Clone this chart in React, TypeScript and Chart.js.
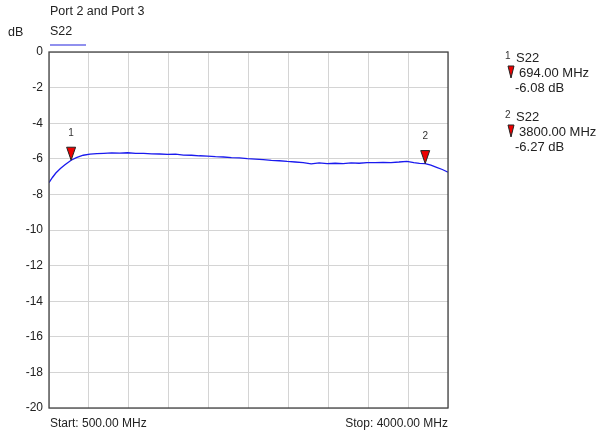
import React, { useEffect, useRef } from "react";
import { Chart, registerables } from "chart.js";

Chart.register(...registerables);

const freqs = [500, 530, 560, 600, 640, 694, 740, 800, 860, 920, 980, 1050, 1120, 1190, 1260, 1330, 1400, 1470, 1540, 1610, 1680, 1750, 1820, 1890, 1960, 2030, 2100, 2170, 2240, 2310, 2380, 2450, 2520, 2590, 2660, 2730, 2800, 2870, 2940, 3010, 3080, 3150, 3220, 3290, 3360, 3430, 3500, 3570, 3640, 3700, 3750, 3800, 3850, 3900, 3950, 4000];
const s22 = [-7.34, -7.05, -6.8, -6.55, -6.34, -6.08, -5.93, -5.8, -5.74, -5.71, -5.69, -5.67, -5.68, -5.66, -5.69, -5.7, -5.72, -5.73, -5.75, -5.74, -5.79, -5.8, -5.83, -5.85, -5.88, -5.9, -5.93, -5.95, -5.99, -6.02, -6.05, -6.09, -6.11, -6.15, -6.18, -6.21, -6.29, -6.23, -6.27, -6.25, -6.27, -6.23, -6.25, -6.21, -6.22, -6.2, -6.21, -6.18, -6.14, -6.22, -6.26, -6.27, -6.36, -6.48, -6.6, -6.75];

const markerIds = ["1", "2"];
const markerFreqs = [694, 3800];
const markerVals = [-6.08, -6.27];
const markerFreqLabels = ["694.00 MHz", "3800.00 MHz"];
const markerValLabels = ["-6.08 dB", "-6.27 dB"];

const yMin = -20;
const yMax = 0;
const yStep = 2;
const xMin = 500;
const xMax = 4000;
const xStep = 350;

const FONT = "'Liberation Sans', Arial, sans-serif";

function tri(ctx: CanvasRenderingContext2D, x: number, tipY: number, w: number, h: number) {
  ctx.beginPath();
  ctx.moveTo(x - w / 2, tipY - h);
  ctx.lineTo(x + w / 2, tipY - h);
  ctx.lineTo(x, tipY);
  ctx.closePath();
  ctx.fillStyle = "#ee0000";
  ctx.fill();
  ctx.strokeStyle = "#222";
  ctx.lineWidth = 1;
  ctx.stroke();
}

const overlay = {
  id: "overlay",
  afterDraw(chart: any) {
    const ctx: CanvasRenderingContext2D = chart.ctx;
    const a = chart.chartArea;
    const xs = chart.scales.x;
    const ys = chart.scales.y;
    ctx.save();
    // frame
    ctx.strokeStyle = "#444";
    ctx.lineWidth = 1.3;
    ctx.strokeRect(a.left, a.top, a.right - a.left, a.bottom - a.top);

    ctx.fillStyle = "#222";
    ctx.textBaseline = "middle";
    ctx.font = `12.5px ${FONT}`;
    ctx.textAlign = "left";
    ctx.fillText("Port 2 and Port 3", 50, 12);
    ctx.fillText("S22", 50, 32);
    ctx.fillText("dB", 8, 33);
    ctx.font = `12px ${FONT}`;
    ctx.fillText("Start: 500.00 MHz", 50, 424);
    ctx.textAlign = "right";
    ctx.fillText("Stop: 4000.00 MHz", a.right, 424);

    ctx.strokeStyle = "#2222dd";
    ctx.lineWidth = 1.2;
    ctx.beginPath();
    ctx.moveTo(50, 45);
    ctx.lineTo(86, 45);
    ctx.stroke();

    // markers on trace
    for (let i = 0; i < markerFreqs.length; i++) {
      const px = xs.getPixelForValue(markerFreqs[i]);
      const py = ys.getPixelForValue(markerVals[i]);
      tri(ctx, px, py, 9, 13);
      ctx.fillStyle = "#333";
      ctx.font = `10px ${FONT}`;
      ctx.textAlign = "center";
      ctx.fillText(markerIds[i], px, py - 27);
    }

    // legend
    for (let i = 0; i < markerIds.length; i++) {
      const base = 58 + i * 59;
      ctx.fillStyle = "#333";
      ctx.textAlign = "left";
      ctx.font = `10px ${FONT}`;
      ctx.fillText(markerIds[i], 505, base - 2);
      ctx.font = `13px ${FONT}`;
      ctx.fillStyle = "#222";
      ctx.fillText("S22", 516, base);
      tri(ctx, 511, base + 20, 6, 12);
      ctx.fillStyle = "#222";
      ctx.fillText(markerFreqLabels[i], 519, base + 15);
      ctx.fillText(markerValLabels[i], 515, base + 30);
    }
    ctx.restore();
  },
};

export default function App() {
  const ref = useRef<HTMLCanvasElement>(null);
  useEffect(() => {
    if (!ref.current) return;
    const chart = new Chart(ref.current, {
      type: "line",
      data: {
        datasets: [
          {
            label: "S22",
            data: freqs.map((f, i) => ({ x: f, y: s22[i] })),
            borderColor: "#1a1aee",
            borderWidth: 1.3,
            pointRadius: 0,
            tension: 0,
            fill: false,
          },
        ],
      },
      options: {
        responsive: false,
        animation: false,
        events: [],
        layout: { padding: { left: 0, top: 52, right: 153, bottom: 0 } },
        plugins: { legend: { display: false }, tooltip: { enabled: false } },
        scales: {
          x: {
            type: "linear",
            min: xMin,
            max: xMax,
            afterFit: (s: any) => {
              s.height = 29;
            },
            afterBuildTicks: (s: any) => {
              const t = [];
              for (let v = xMin; v <= xMax + 1; v += xStep) t.push({ value: v });
              s.ticks = t;
            },
            ticks: { display: false },
            grid: { color: "#d4d4d4", lineWidth: 1, drawTicks: false },
            border: { display: false },
          },
          y: {
            min: yMin,
            max: yMax,
            afterFit: (s: any) => {
              s.width = 49;
            },
            ticks: {
              stepSize: yStep,
              padding: 6,
              color: "#222",
              font: { family: FONT, size: 12 },
            },
            grid: { color: "#d4d4d4", lineWidth: 1, drawTicks: false },
            border: { display: false },
          },
        },
      },
      plugins: [overlay],
    });
    return () => chart.destroy();
  }, []);
  return (
    <div style={{ position: "absolute", left: 0, top: 0, width: 601, height: 437, background: "#fff" }}>
      <canvas ref={ref} width={601} height={437} style={{ width: 601, height: 437 }} />
    </div>
  );
}
